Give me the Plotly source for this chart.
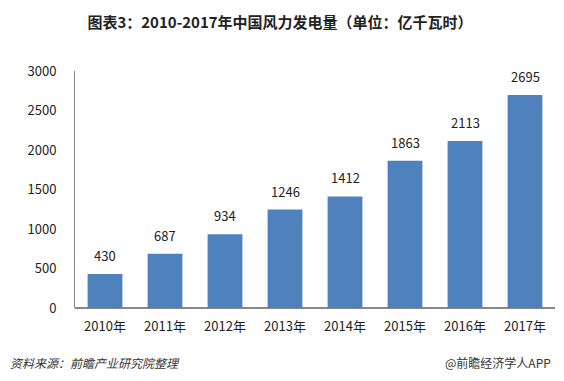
import plotly.graph_objects as go

years = ["2010年", "2011年", "2012年", "2013年", "2014年", "2015年", "2016年", "2017年"]
values = [430, 687, 934, 1246, 1412, 1863, 2113, 2695]
y_ticks = [0, 500, 1000, 1500, 2000, 2500, 3000]

font_family = "Microsoft YaHei, Noto Sans CJK SC, sans-serif"

fig = go.Figure(go.Bar(
    x=years, y=values,
    marker=dict(color="#4F81BD", line=dict(width=0)),
    hoverinfo="x+y",
))

for yr, v in zip(years, values):
    fig.add_annotation(x=yr, y=v, text=str(v), showarrow=False, yanchor="bottom",
                       yshift=7, font=dict(size=13, color="#222"))

fig.update_layout(
    width=564, height=381,
    margin=dict(l=75, r=9, t=71, b=73),
    paper_bgcolor="white", plot_bgcolor="white",
    bargap=0.42,
    showlegend=False,
    font=dict(family=font_family, color="#222"),
    title=dict(text="<b>图表3：2010-2017年中国风力发电量（单位：亿千瓦时）</b>",
               x=280 / 564, xref="container", xanchor="center",
               y=1 - 23 / 381, yanchor="middle",
               font=dict(size=15, color="#222")),
    xaxis=dict(showline=False, ticks="", tickfont=dict(size=13, color="#222"),
               ticklabelstandoff=9),
    yaxis=dict(range=[0, 3000], tickvals=y_ticks, showgrid=False, showline=True,
               linecolor="#888", linewidth=1, ticks="", zeroline=True,
               zerolinecolor="#888", tickfont=dict(size=13, color="#222"),
               ticklabelstandoff=15),
)

fig.add_annotation(text="<i>资料来源：前瞻产业研究院整理</i>", xref="paper", yref="paper",
                   x=(8 - 75) / 480, y=(308 - 362) / 237, xanchor="left", yanchor="middle",
                   showarrow=False, font=dict(size=12, color="#333"))
fig.add_annotation(text="@前瞻经济学人APP", xref="paper", yref="paper",
                   x=(553 - 75) / 480, y=(308 - 362) / 237, xanchor="right", yanchor="middle",
                   showarrow=False, font=dict(size=12, color="#333"))

fig.write_html("out.html", config={"displayModeBar": False},
               post_script="document.body.style.margin='0';")
